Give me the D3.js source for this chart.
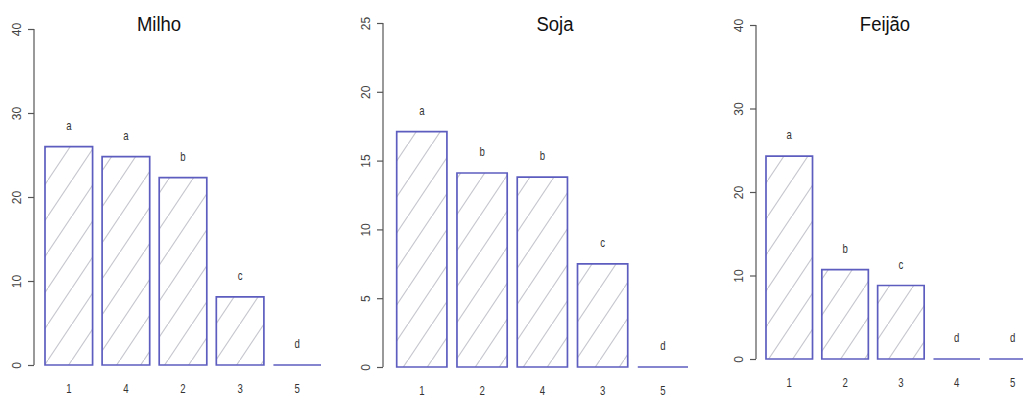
<!DOCTYPE html>
<html>
<head>
<meta charset="utf-8">
<script src="https://cdn.jsdelivr.net/npm/d3@7"></script>
<style>
  body { margin: 0; background: #fff; }
  svg text { font-family: "Liberation Sans", Arial, sans-serif; fill: #222; }
</style>
</head>
<body>
<div id="chart"></div>
<script>
// data
var milhoCats = ["1", "4", "2", "3", "5"];
var milhoVals = [26.0, 24.8, 22.3, 8.1, 0];
var milhoLetters = ["a", "a", "b", "c", "d"];
var milhoTicks = [0, 10, 20, 30, 40];

var sojaCats = ["1", "2", "4", "3", "5"];
var sojaVals = [17.1, 14.1, 13.8, 7.5, 0];
var sojaLetters = ["a", "b", "b", "c", "d"];
var sojaTicks = [0, 5, 10, 15, 20, 25];

var feijaoCats = ["1", "2", "3", "4", "5"];
var feijaoVals = [24.3, 10.7, 8.8, 0, 0];
var feijaoLetters = ["a", "b", "c", "d", "d"];
var feijaoTicks = [0, 10, 20, 30, 40];

var w = 1023, h = 397;

var svg = d3.select("#chart")
    .append("svg")
    .attr("width", w)
    .attr("height", h);

// hatch pattern (R density lines)
svg.append("defs").append("pattern")
    .attr("id", "hatch")
    .attr("patternUnits", "userSpaceOnUse")
    .attr("width", 24)
    .attr("height", 36)
  .append("line")
    .attr("x1", -2).attr("y1", 39)
    .attr("x2", 26).attr("y2", -3)
    .style("stroke", "#c6c6d0")
    .style("stroke-width", 1.1);

var panels = [
  {title: "Milho", cats: milhoCats, vals: milhoVals, letters: milhoLetters, ticks: milhoTicks,
   axisX: 34, yTop: 29, yBase: 365, barL: 45, barR: 321, titleX: 159},
  {title: "Soja", cats: sojaCats, vals: sojaVals, letters: sojaLetters, ticks: sojaTicks,
   axisX: 383, yTop: 23, yBase: 367, barL: 396.7, barR: 688, titleX: 555},
  {title: "Feijão", cats: feijaoCats, vals: feijaoVals, letters: feijaoLetters, ticks: feijaoTicks,
   axisX: 756, yTop: 25, yBase: 359, barL: 766, barR: 1035.8, titleX: 885}
];

panels.forEach(function(p) {
  var g = svg.append("g");

  var y = d3.scaleLinear()
      .domain([0, d3.max(p.ticks)])
      .range([p.yBase, p.yTop]);

  var x = d3.scaleBand()
      .domain(p.cats)
      .range([p.barL, p.barR])
      .paddingInner(0.2 / 1.2)
      .paddingOuter(0);

  var yAxis = d3.axisLeft(y).tickValues(p.ticks).tickSize(6).tickPadding(0);

  var ax = g.append("g")
      .attr("transform", "translate(" + p.axisX + ",0)")
      .call(yAxis);
  ax.select(".domain").attr("d", "M0," + y(0) + "V" + y(d3.max(p.ticks)))
      .style("stroke", "#555")
      .style("stroke-width", 1.2);
  ax.selectAll(".tick line").style("stroke", "#555").style("stroke-width", 1.2);
  ax.selectAll(".tick text")
      .attr("x", null).attr("dy", null)
      .attr("transform", "translate(-17,0) rotate(-90)")
      .attr("text-anchor", "middle")
      .attr("dominant-baseline", "central")
      .style("font-size", "12px")
      .style("fill", "#444")
      .style("font-family", "Liberation Sans, Arial, sans-serif");

  var data = p.cats.map(function(c, i) {
    return {cat: c, val: p.vals[i], letter: p.letters[i]};
  });

  var bar = function(d) {
    var x0 = x(d.cat), x1 = x0 + x.bandwidth();
    return "M" + x0 + "," + y(0) + "V" + y(d.val) + "H" + x1 + "V" + y(0) + "Z";
  };

  g.selectAll(".bar-fill")
    .data(data)
    .enter().append("path")
      .attr("d", bar)
      .style("fill", "url(#hatch)")
      .style("stroke", "#5d5dc0")
      .style("stroke-width", 1.7);

  g.selectAll(".letter")
    .data(data)
    .enter().append("text")
      .attr("transform", function(d) {
        return "translate(" + (x(d.cat) + x.bandwidth() / 2) + "," + (y(d.val) - 17) + ") scale(0.8,1)";
      })
      .attr("text-anchor", "middle")
      .style("font-size", "12px")
      .style("fill", "#333")
      .text(function(d) { return d.letter; });

  g.selectAll(".xlab")
    .data(data)
    .enter().append("text")
      .attr("transform", function(d) {
        return "translate(" + (x(d.cat) + x.bandwidth() / 2) + "," + (y(0) + 28) + ") scale(0.8,1)";
      })
      .attr("text-anchor", "middle")
      .style("font-size", "12px")
      .style("fill", "#333")
      .text(function(d) { return d.cat; });

  g.append("text")
      .attr("transform", "translate(" + p.titleX + ",31) scale(0.88,1)")
      .attr("text-anchor", "middle")
      .style("font-size", "21px")
      .style("fill", "#111")
      .text(p.title);
});
</script>
</body>
</html>
